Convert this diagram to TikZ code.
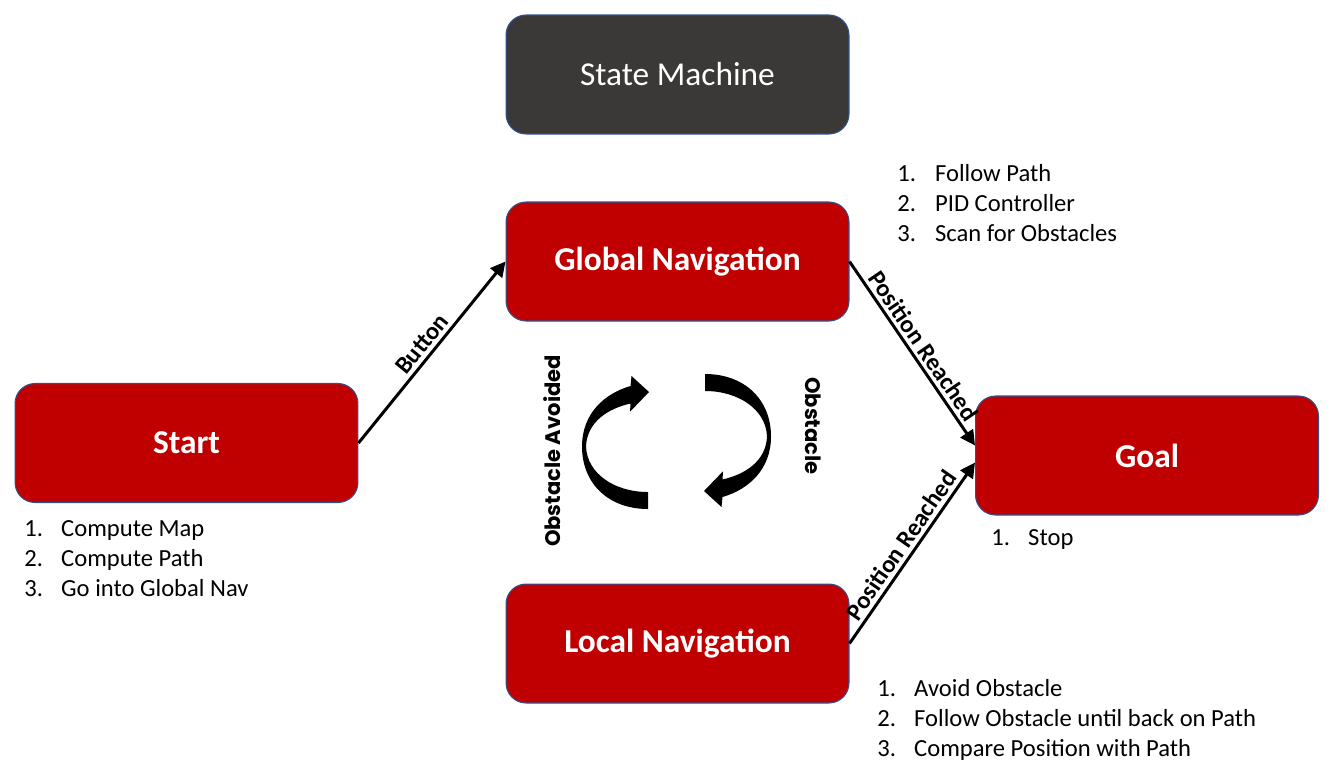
\documentclass[tikz,border=0pt]{standalone}
\usepackage{fontspec}
\setmainfont{Carlito}
\newfontfamily\turnfont{Poppins}
\usetikzlibrary{arrows.meta}
\definecolor{navred}{HTML}{C00000}
\definecolor{navgray}{HTML}{3B3838}
\definecolor{navedge}{HTML}{2F528F}

\begin{document}
\begin{tikzpicture}[
	x=0.02cm, y=-0.02cm,
	state/.style = {draw=navedge, line width=0.6pt, fill=navred, rounded corners=0.4cm,
		minimum width=6.86cm, minimum height=2.38cm, text=white,
		font=\fontsize{19}{23}\selectfont\bfseries},
	steps/.style = {anchor=base west, inner sep=0pt, font=\fontsize{14}{17.3}\selectfont},
	trans/.style = {line width=1.7pt, -{Triangle[length=8.5pt,width=8.5pt]}},
	trans label/.style = {midway, above, sloped, inner sep=2pt,
		font=\fontsize{14}{17}\selectfont\bfseries},
	turn label/.style = {font=\turnfont\bfseries\fontsize{12}{14}\selectfont},
	halfturn/.pic = {
		\fill (-28.5,67.5) .. controls (-68,67.5) and (-94.5,42) .. (-94.5,5)
			.. controls (-94.5,-28) and (-72,-48) .. (-46,-55.5)
			-- (-45,-65.5) -- (-27.5,-49.5) -- (-46.5,-29.8) -- (-46,-38)
			.. controls (-68,-33) and (-89.5,-20) .. (-90.5,5)
			.. controls (-89.5,32) and (-62,50.5) .. (-28.5,50.5) -- cycle;
	}
]
\useasboundingbox (0,0) rectangle (1338,762);

\node (machine) [state, fill=navgray, font=\fontsize{19}{23}\selectfont] at (677.5,74.5) {State Machine};
\node (global) [state] at (677.5,261.5) {Global Navigation};
\node (start) [state] at (186.5,443) {Start};
\node (goal) [state] at (1147,455.5) {Goal};
\node (local) [state] at (677.5,643.5) {Local Navigation};

\node (globalsteps) [steps] at (897,181) {\begin{tabular}[t]{@{}p{21.5pt}@{}l@{}}
	1. & Follow Path\\
	2. & PID Controller\\
	3. & Scan for Obstacles
\end{tabular}};
\node (startsteps) [steps] at (24,536) {\begin{tabular}[t]{@{}p{21pt}@{}l@{}}
	1. & Compute Map\\
	2. & Compute Path\\
	3. & Go into Global Nav
\end{tabular}};
\node (goalsteps) [steps] at (991,545) {\begin{tabular}[t]{@{}p{21pt}@{}l@{}}
	1. & Stop
\end{tabular}};
\node (localsteps) [steps] at (877,696) {\begin{tabular}[t]{@{}p{21pt}@{}l@{}}
	1. & Avoid Obstacle\\
	2. & Follow Obstacle until back on Path\\
	3. & Compare Position with Path
\end{tabular}};

\draw[trans] (start.east) -- (global.west) node[trans label] {Button};
\draw[trans] (global.east) -- ([yshift=0.2cm]goal.west) node[trans label] {Position Reached};
\draw[trans] (local.east) -- ([yshift=-0.14cm]goal.west) node[trans label] {Position Reached};

\pic at (676.5,441.5) {halfturn};
\pic[rotate=180] at (676.5,441.5) {halfturn};
\node (avoided) [turn label, rotate=90] at (552,451) {Obstacle Avoided};
\node (obstacle) [turn label, rotate=-90] at (813,426) {Obstacle};

\end{tikzpicture}
\end{document}
